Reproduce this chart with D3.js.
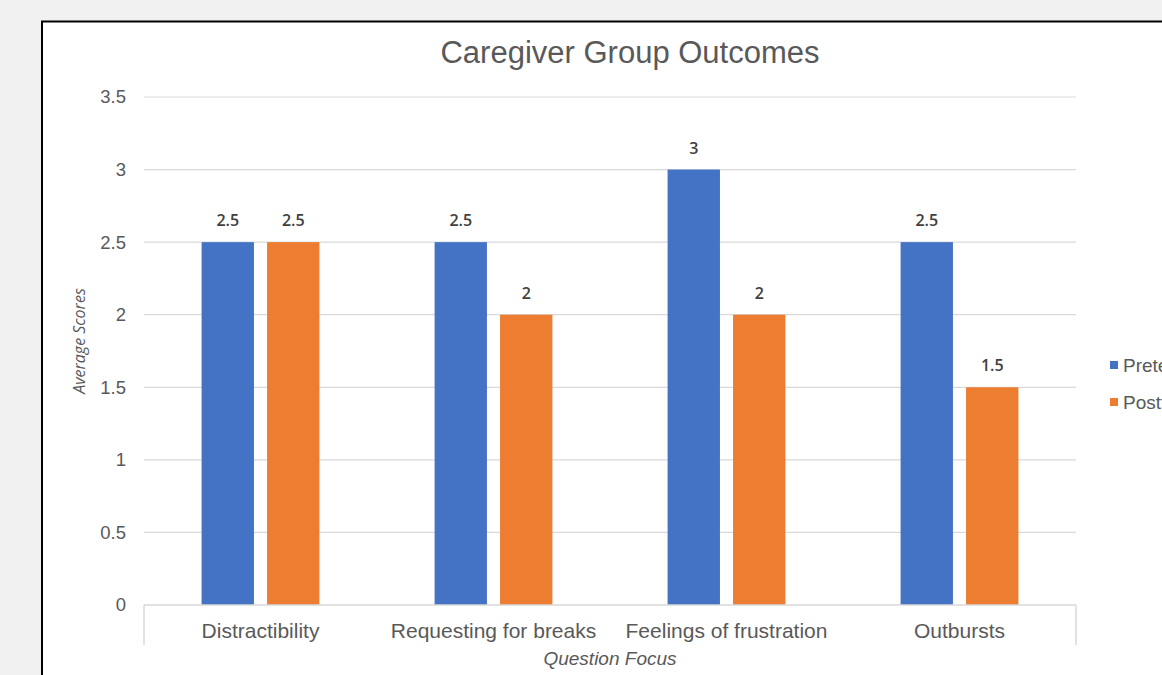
<!DOCTYPE html>
<html>
<head>
<meta charset="utf-8">
<script src="https://cdn.jsdelivr.net/npm/d3@7"></script>
<style>
  html, body { margin: 0; padding: 0; background: #f0f0f0; overflow: hidden; }
  svg { display: block; }
</style>
</head>
<body>
<svg id="chart" width="1162" height="675"></svg>
<script>
// Question categories and average scores for each series
const categories = ["Distractibility", "Requesting for breaks", "Feelings of frustration", "Outbursts"];
const seriesNames = ["Pretest", "Posttest"];
const pretestValues = [2.5, 2.5, 3, 2.5];
const posttestValues = [2.5, 2, 2, 1.5];
const yTicks = [0, 0.5, 1, 1.5, 2, 2.5, 3, 3.5];
const colors = ["#4472c4", "#ed7d31"];

const seriesValues = [pretestValues, posttestValues];
const rows = categories.map((c, i) => ({
  category: c,
  values: seriesNames.map((s, j) => ({ series: s, value: seriesValues[j][i] }))
}));

const svg = d3.select("#chart");
const font = "'Liberation Sans', Arial, Helvetica, sans-serif";

// White chart panel with a dark frame
svg.append("rect")
  .attr("x", 42).attr("y", 21.5)
  .attr("width", 1200).attr("height", 700)
  .attr("fill", "#ffffff")
  .attr("stroke", "#000000").attr("stroke-width", 2);

const plot = { left: 144, right: 1076, top: 97, bottom: 605 };

const x0 = d3.scaleBand().domain(categories).range([plot.left, plot.right]).padding(0);
const x1 = d3.scaleBand().domain(seriesNames).range([0, x0.bandwidth()])
  .paddingInner(0.2).paddingOuter(0.88);
const y = d3.scaleLinear().domain([0, 3.5]).range([plot.bottom, plot.top]);

// Horizontal gridlines
svg.append("g")
  .selectAll("line")
  .data(yTicks.filter(t => t > 0))
  .join("line")
  .attr("x1", plot.left).attr("x2", plot.right)
  .attr("y1", d => y(d)).attr("y2", d => y(d))
  .attr("stroke", "#d9d9d9").attr("stroke-width", 1.2);

// Y axis tick labels
const yAxis = d3.axisLeft(y).tickValues(yTicks).tickSize(0).tickPadding(18)
  .tickFormat(d => String(d));
const gy = svg.append("g").attr("transform", `translate(${plot.left},0)`).call(yAxis);
gy.select(".domain").remove();
gy.selectAll("text")
  .attr("font-family", font).attr("font-size", 18.5).attr("fill", "#595959");

// Bars
const groups = svg.append("g")
  .selectAll("g")
  .data(rows)
  .join("g")
  .attr("transform", d => `translate(${x0(d.category)},0)`);

groups.selectAll("rect")
  .data(d => d.values)
  .join("rect")
  .attr("x", d => x1(d.series))
  .attr("width", x1.bandwidth())
  .attr("y", d => y(d.value))
  .attr("height", d => y(0) - y(d.value))
  .attr("fill", (d, i) => colors[i]);

// Value labels above bars
groups.selectAll("text")
  .data(d => d.values)
  .join("text")
  .attr("x", d => x1(d.series) + x1.bandwidth() / 2)
  .attr("y", d => y(d.value) - 16)
  .attr("text-anchor", "middle")
  .attr("font-family", "'Open Sans', sans-serif")
  .attr("font-weight", 600)
  .attr("font-size", 16)
  .attr("fill", "#404040")
  .text(d => d.value);

// X axis baseline with end ticks
const xAxis = d3.axisBottom(x0).tickSize(0).tickPadding(0);
const gx = svg.append("g").attr("transform", `translate(0,${plot.bottom})`).call(xAxis);
gx.select(".domain").remove();
gx.append("line")
  .attr("x1", plot.left).attr("x2", plot.right)
  .attr("y1", 0).attr("y2", 0)
  .attr("stroke", "#d9d9d9").attr("stroke-width", 1.5);
[plot.left, plot.right].forEach(px => {
  gx.append("line")
    .attr("x1", px).attr("x2", px).attr("y1", 0).attr("y2", 40)
    .attr("stroke", "#d9d9d9").attr("stroke-width", 1.5);
});
gx.selectAll(".tick text")
  .attr("y", 33).attr("dy", 0)
  .attr("font-family", font).attr("font-size", 21).attr("fill", "#595959");

// Title
svg.append("text")
  .attr("x", 630).attr("y", 63)
  .attr("text-anchor", "middle")
  .attr("font-family", font).attr("font-size", 31).attr("fill", "#595959")
  .text("Caregiver Group Outcomes");

// Axis titles
svg.append("text")
  .attr("x", 610).attr("y", 665)
  .attr("text-anchor", "middle")
  .attr("font-family", font).attr("font-style", "italic")
  .attr("font-size", 19).attr("fill", "#595959")
  .text("Question Focus");

svg.append("text")
  .attr("transform", "translate(85,341) rotate(-90)")
  .attr("text-anchor", "middle")
  .attr("font-family", "'Open Sans', sans-serif").attr("font-style", "italic")
  .attr("font-size", 16).attr("fill", "#595959")
  .text("Average Scores");

// Legend (runs past the right edge of the view)
const legend = svg.append("g")
  .selectAll("g")
  .data(seriesNames)
  .join("g")
  .attr("transform", (d, i) => `translate(1110,${361 + i * 37})`);
legend.append("rect")
  .attr("width", 8).attr("height", 8)
  .attr("fill", (d, i) => colors[i]);
legend.append("text")
  .attr("x", 13).attr("y", 11)
  .attr("font-family", font).attr("font-size", 19).attr("fill", "#595959")
  .text(d => d);
</script>
</body>
</html>
